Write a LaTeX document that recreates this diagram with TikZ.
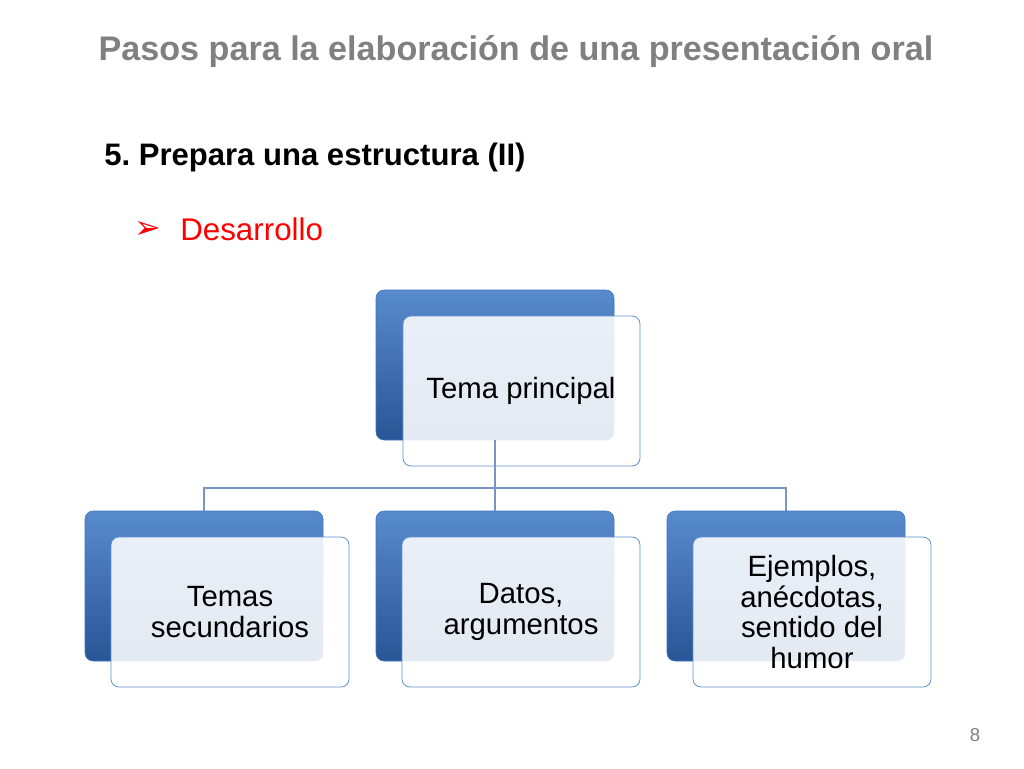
\documentclass[tikz,border=0pt]{standalone}
\usepackage{fontspec}
\setmainfont{Liberation Sans}
\newfontfamily\djv{DejaVu Sans}
\definecolor{tblue}{RGB}{58,118,196}
\definecolor{dblue}{RGB}{40,85,150}
\definecolor{lineblue}{RGB}{120,150,190}
\definecolor{titlegray}{RGB}{128,128,128}
\begin{document}
\frenchspacing
\begin{tikzpicture}[x=0.75pt,y=-0.75pt,
 back/.style={draw=tblue,rounded corners=6pt,top color=tblue!85!white,bottom color=dblue},
 front/.style={draw=tblue!80,rounded corners=6pt,fill=white,fill opacity=0.88,text opacity=1,line width=0.6pt},
 lbl/.style={font=\fontsize{22}{23}\selectfont,align=center,text=black},
 conn/.style={draw=lineblue,line width=0.8pt}]
\useasboundingbox (0,0) rectangle (1024,768);
\fill[white] (0,0) rectangle (1024,768);
\node[anchor=center,text=titlegray,font=\bfseries\fontsize{25.6}{28}\selectfont] (title) at (516,52) {Pasos para la elaboración de una presentación oral};
\node[anchor=west,inner sep=0pt,font=\bfseries\fontsize{23.3}{25}\selectfont] (sub) at (104,157) {5. Prepara una estructura (II)};
\node[anchor=west,inner sep=0pt,text=red,font=\djv\fontsize{24}{26}\selectfont] (arr) at (134,230) {➢};
\node[anchor=west,inner sep=0pt,text=red,font=\fontsize{23.5}{26}\selectfont] (des) at (180,229) {Desarrollo};
\node[text=titlegray,font=\fontsize{14}{16}\selectfont] (pg) at (975,735) {8};
% boxes
\draw[back] (376,290) rectangle (614,440);
\draw[front] (403,316) rectangle (640,466);
\node[lbl] (tp) at (521,391) {Tema principal};
\coordinate (tpb) at (495,440);
\foreach \x/\n in {85/a,376/b,667/c}{
 \draw[back] (\x,511) rectangle (\x+238,661);
 \draw[front] (\x+26,537) rectangle (\x+264,687);
 \coordinate (\n top) at (\x+119,511);
}
\node[lbl] (ta) at (230,612) {Temas\\secundarios};
\node[lbl] (tb) at (521,612) {Datos,\\argumentos};
\node[lbl] (tc) at (812,612) {Ejemplos,\\anécdotas,\\sentido del\\humor};
\coordinate (j) at (495,488);
\draw[conn] (tpb) -- (j);
\draw[conn] (atop) |- (j) -| (ctop);
\draw[conn] (j) -- (btop);
\end{tikzpicture}
\end{document}
